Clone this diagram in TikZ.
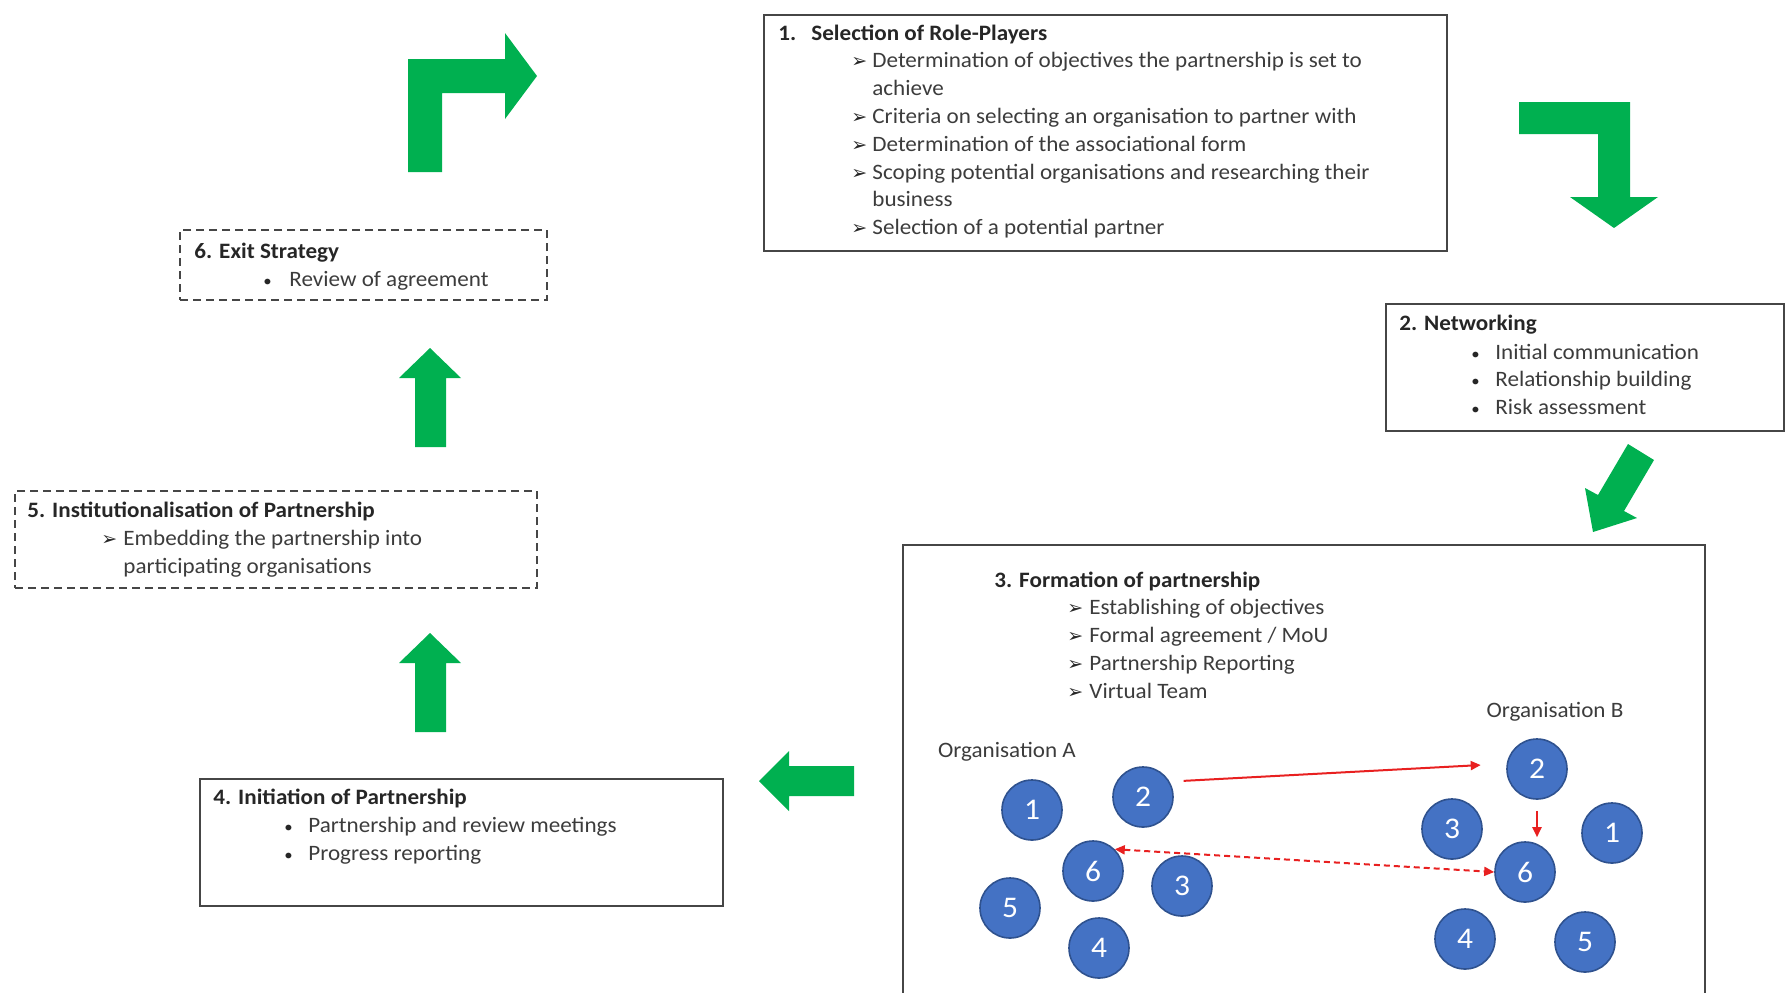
\documentclass[tikz,border=0pt]{standalone}
\usepackage{fontspec}
\setmainfont[FakeStretch=1.05]{Carlito}
\newfontfamily\dv{DejaVu Sans}
\usetikzlibrary{arrows.meta}
\definecolor{grn}{RGB}{0,176,80}
\definecolor{cblue}{RGB}{68,114,196}
\definecolor{cbord}{RGB}{47,82,143}
\definecolor{boxline}{RGB}{70,70,70}
\definecolor{txt}{RGB}{38,38,38}
\definecolor{itx}{RGB}{60,60,60}
\definecolor{rd}{RGB}{232,32,32}
\newcommand{\arrglyph}{{\dv\fontsize{9.5}{10}\selectfont ➢}}
\newcommand{\smallbul}{{\fontsize{8}{8}\selectfont •}}
\begin{document}
\begin{tikzpicture}[x=0.5pt,y=-0.5pt,
  boxsolid/.style={draw=boxline, line width=1pt, anchor=north west, inner sep=0},
  boxdash/.style={boxsolid, dash pattern=on 4pt off 2.5pt},
  ttl/.style={anchor=base west, inner sep=0, text=txt, font=\fontsize{11}{13}\selectfont\bfseries},
  itm/.style={anchor=base west, inner sep=0, text=itx, font=\fontsize{11}{13}\selectfont},
  bul/.style={anchor=base west, inner sep=0, text=txt, font=\fontsize{11}{13}\selectfont},
  orgc/.style={circle, fill=cblue, draw=cbord, line width=0.8pt, minimum size=30pt, inner sep=0, text=white, font=\fontsize{15}{15}\selectfont},
  orgl/.style={inner sep=0, text=itx, font=\fontsize{11}{13}\selectfont},
  blk/.style={fill=grn},
  redarr/.style={draw=rd, line width=1pt, -{Triangle[length=5pt,width=4.5pt]}}
]
\useasboundingbox (0,0) rectangle (1785,992);

% ---- Box 1
\node[boxsolid, minimum width=341.5pt, minimum height=118pt] (b1) at (763,14) {};
\node[ttl] (t1n) at (778,40) {1.};
\node[ttl] (t1) at (811,40) {Selection of Role-Players};
\node[bul] (a11) at (851,67.8) {\arrglyph};
\node[itm] (i11) at (872,67.8) {Determination of objectives the partnership is set to};
\node[itm] (i11b) at (872,95.6) {achieve};
\node[bul] (a12) at (851,123.4) {\arrglyph};
\node[itm] (i12) at (872,123.4) {Criteria on selecting an organisation to partner with};
\node[bul] (a13) at (851,151.2) {\arrglyph};
\node[itm] (i13) at (872,151.2) {Determination of the associational form};
\node[bul] (a14) at (851,179) {\arrglyph};
\node[itm] (i14) at (872,179) {Scoping potential organisations and researching their};
\node[itm] (i14b) at (872,206.8) {business};
\node[bul] (a15) at (851,234.6) {\arrglyph};
\node[itm] (i15) at (872,234.6) {Selection of a potential partner};

% ---- Box 2
\node[boxsolid, minimum width=199pt, minimum height=63.5pt] (b2) at (1385,303) {};
\node[ttl] (t2) at (1399,330) {2. Networking};
\node[bul] (d21) at (1471,359) {\smallbul};
\node[itm] (i21) at (1495,359) {Initial communication};
\node[bul] (d22) at (1471,386) {\smallbul};
\node[itm] (i22) at (1495,386) {Relationship building};
\node[bul] (d23) at (1471,414) {\smallbul};
\node[itm] (i23) at (1495,414) {Risk assessment};

% ---- Box 3
\node[boxsolid, minimum width=401pt, minimum height=260pt] (b3) at (902,544) {};
\node[ttl] (t3) at (994,587) {3. Formation of partnership};
\node[bul] (a31) at (1067,614.8) {\arrglyph};
\node[itm] (i31) at (1089,614.8) {Establishing of objectives};
\node[bul] (a32) at (1067,642.6) {\arrglyph};
\node[itm] (i32) at (1089,642.6) {Formal agreement / MoU};
\node[bul] (a33) at (1067,670.4) {\arrglyph};
\node[itm] (i33) at (1089,670.4) {Partnership Reporting};
\node[bul] (a34) at (1067,698.2) {\arrglyph};
\node[itm] (i34) at (1089,698.2) {Virtual Team};

\node[orgl] (orgA) at (1007,752) {Organisation A};
\node[orgl] (orgB) at (1555,712) {Organisation B};

\node[orgc] (A1) at (1032,810) {1};
\node[orgc] (A2) at (1143,797) {2};
\node[orgc] (A6) at (1093,871) {6};
\node[orgc] (A3) at (1182,886) {3};
\node[orgc] (A5) at (1010,908) {5};
\node[orgc] (A4) at (1099,948) {4};

\node[orgc] (B2) at (1537,769) {2};
\node[orgc] (B3) at (1452,829) {3};
\node[orgc] (B1) at (1612,833) {1};
\node[orgc] (B6) at (1525,872) {6};
\node[orgc] (B4) at (1465,939) {4};
\node[orgc] (B5) at (1585,942) {5};

\draw[redarr, shorten <=7pt, shorten >=13pt] (A2.30) -- (B2.170);
\draw[redarr, shorten <=5.5pt, shorten >=2pt] (B2.south) -- (B2.south |- B6.north);
\draw[redarr, dash pattern=on 3pt off 2pt, {Triangle[length=5pt,width=4.5pt]}-{Triangle[length=5pt,width=4.5pt]}] (A6.45) -- (B6.west);

% ---- Box 4
\node[boxsolid, minimum width=261.5pt, minimum height=63.5pt] (b4) at (199,778) {};
\node[ttl] (t4) at (213,804) {4. Initiation of Partnership};
\node[bul] (d41) at (284,832) {\smallbul};
\node[itm] (i41) at (308,832) {Partnership and review meetings};
\node[bul] (d42) at (284,860) {\smallbul};
\node[itm] (i42) at (308,860) {Progress reporting};

% ---- Box 5
\node[boxdash, minimum width=261pt, minimum height=48.5pt] (b5) at (14,490) {};
\node[ttl] (t5) at (27,517) {5. Institutionalisation of Partnership};
\node[bul] (a51) at (101,545) {\arrglyph};
\node[itm] (i51) at (123,545) {Embedding the partnership into};
\node[itm] (i51b) at (123,573) {participating organisations};

% ---- Box 6
\node[boxdash, minimum width=183.5pt, minimum height=35pt] (b6) at (179,229) {};
\node[ttl] (t6) at (194,258) {6. Exit Strategy};
\node[bul] (d61) at (263,286) {\smallbul};
\node[itm] (i61) at (289,286) {Review of agreement};

% ---- green block arrows
% 6 -> 1 (up then right)
\fill[blk] (408,172) -- (408,59) -- (505,59) -- (505,33) -- (537,76) -- (505,119) -- (505,93) -- (442,93) -- (442,172) -- cycle;
% 1 -> 2 (right then down)
\fill[blk] (1519,102) -- (1630,102) -- (1630,197) -- (1658,197) -- (1614,228) -- (1570,197) -- (1598,197) -- (1598,134) -- (1519,134) -- cycle;
% 2 -> 3 (diagonal)
\fill[blk] (1628,444) -- (1654,460) -- (1624,511) -- (1637,518) -- (1593,532) -- (1585,488) -- (1598,495) -- cycle;
% 3 -> 4 (left)
\fill[blk] (854,766) -- (789,766) -- (789,751) -- (759,781) -- (789,811) -- (789,796) -- (854,796) -- cycle;
% 4 -> 5 (up)
\fill[blk] (415,732) -- (415,663) -- (399,663) -- (430,633) -- (461,663) -- (446,663) -- (446,732) -- cycle;
% 5 -> 6 (up)
\fill[blk] (415,447) -- (415,378) -- (399,378) -- (430,348) -- (461,378) -- (446,378) -- (446,447) -- cycle;
\end{tikzpicture}
\end{document}
